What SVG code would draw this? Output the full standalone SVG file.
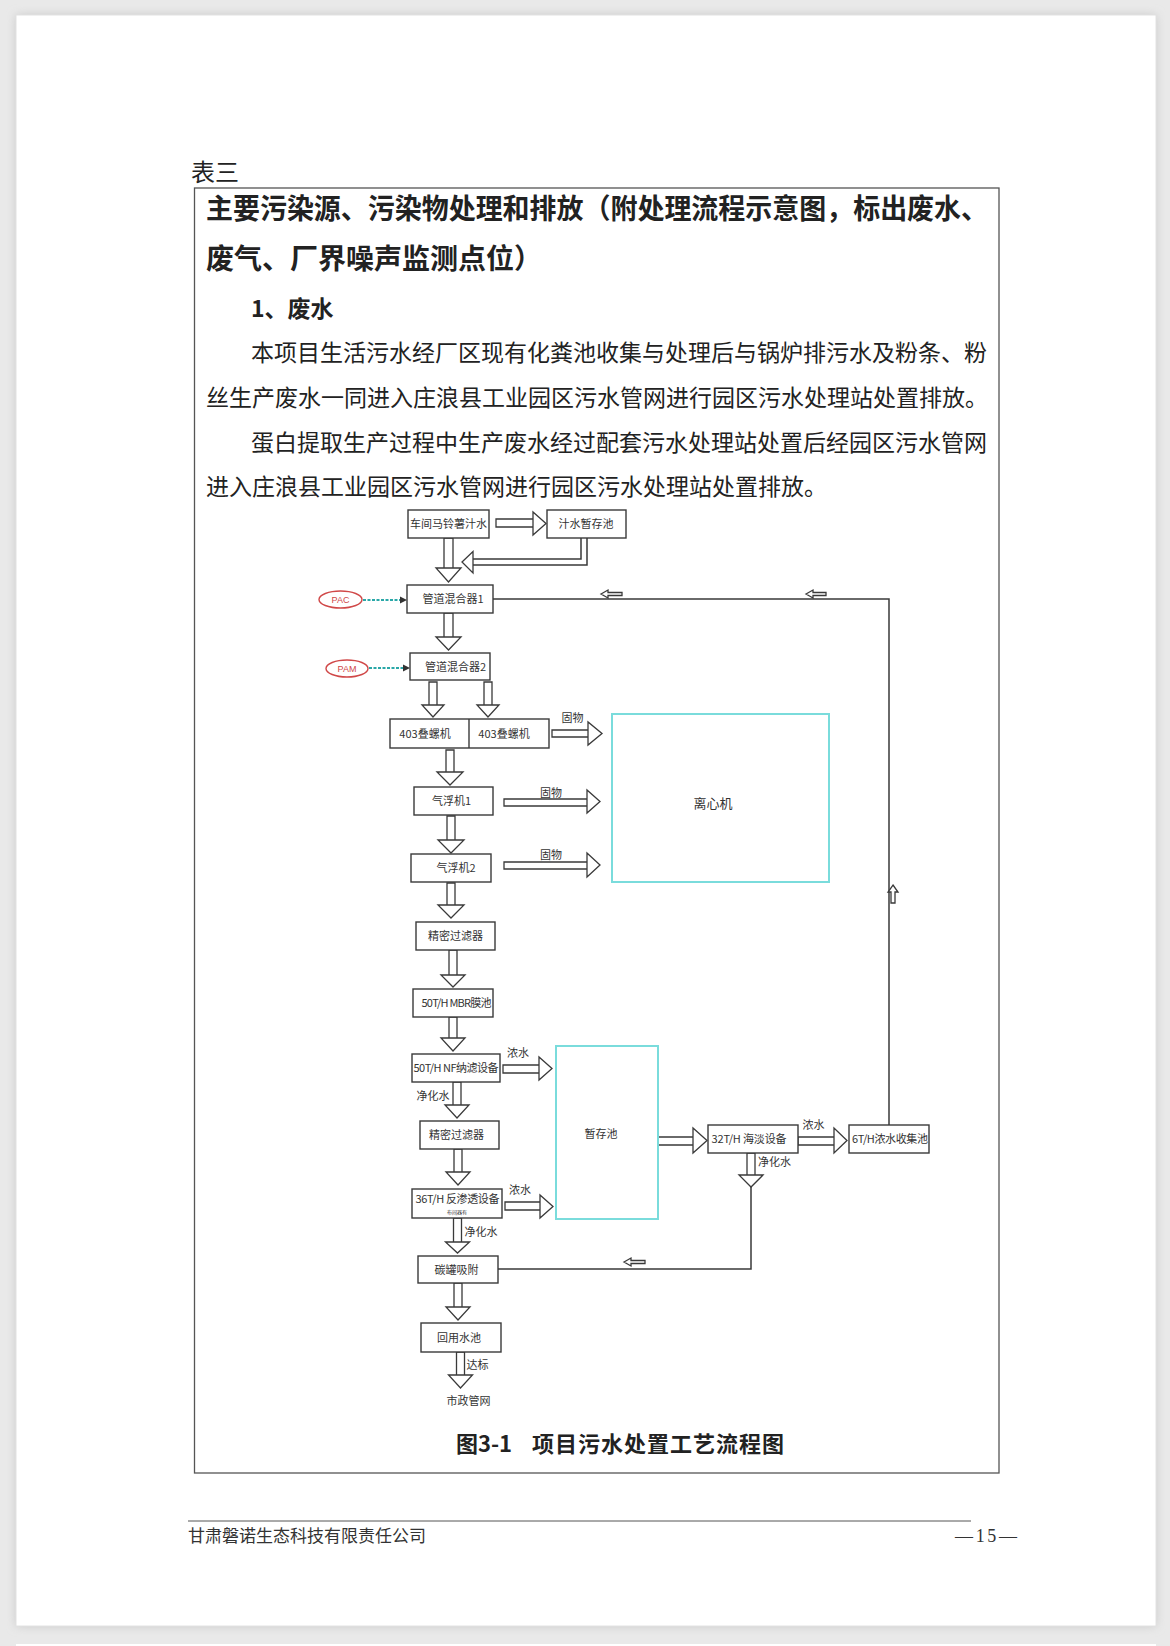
<svg xmlns="http://www.w3.org/2000/svg" width="1170" height="1646" viewBox="0 0 1170 1646">
<defs>
<style>
.bx{fill:#fff;stroke:#3a3a3a;stroke-width:1.4}
.cy{fill:none;stroke:#7adcdc;stroke-width:2}
.ar{fill:#fff;stroke:#3a3a3a;stroke-width:1.3;stroke-linejoin:miter}
.ln{fill:none;stroke:#3a3a3a;stroke-width:1.5}
.t{font-family:"Noto Sans CJK SC","Liberation Sans",sans-serif;font-size:11px;fill:#333;text-anchor:middle}
.body{font-family:"Noto Sans CJK SC",sans-serif;font-size:23px;fill:#222}
.hd{font-family:"Noto Sans CJK SC",sans-serif;font-size:28px;font-weight:bold;fill:#222}
.red{fill:#fff;stroke:#d04848;stroke-width:1.4}
.rt{font-family:"Liberation Sans",sans-serif;font-size:9px;fill:#d04848;text-anchor:middle}
.dot{stroke:#2aa8a8;stroke-width:2.2;stroke-dasharray:3 1.5;fill:none}
</style>
<filter id="sh" x="-5%" y="-5%" width="110%" height="110%">
<feGaussianBlur stdDeviation="5"/>
</filter>
</defs>
<rect x="0" y="0" width="1170" height="1646" fill="#e9e9e9"/>
<rect x="16" y="15" width="1140" height="1611" fill="#c8c8c8" filter="url(#sh)"/>
<rect x="16" y="15" width="1140" height="1611" fill="#fff" stroke="#e2e2e2" stroke-width="1"/>
<rect x="16" y="1644" width="1140" height="2" fill="#fff"/>

<g id="page-text">
<text x="191" y="181" font-family="Noto Sans CJK SC,sans-serif" font-size="24" fill="#222">表三</text>
<rect x="194.5" y="188" width="804.5" height="1285" fill="none" stroke="#555" stroke-width="1.3"/>
<text class="hd" x="206" y="219" textLength="782" lengthAdjust="spacingAndGlyphs">主要污染源、污染物处理和排放（附处理流程示意图，标出废水、</text>
<text class="hd" x="206" y="269">废气、厂界噪声监测点位）</text>
<text class="body" x="251" y="317" font-weight="bold">1、废水</text>
<text class="body" x="251" y="361">本项目生活污水经厂区现有化粪池收集与处理后与锅炉排污水及粉条、粉</text>
<text class="body" x="206" y="406">丝生产废水一同进入庄浪县工业园区污水管网进行园区污水处理站处置排放。</text>
<text class="body" x="251" y="451">蛋白提取生产过程中生产废水经过配套污水处理站处置后经园区污水管网</text>
<text class="body" x="206" y="495">进入庄浪县工业园区污水管网进行园区污水处理站处置排放。</text>
<text x="456" y="1452" font-family="Noto Sans CJK SC,sans-serif" font-size="22" font-weight="bold" fill="#222">图3-1</text>
<text x="532" y="1452" font-family="Noto Sans CJK SC,sans-serif" font-size="22" font-weight="bold" fill="#222" textLength="252">项目污水处置工艺流程图</text>
<line x1="188" y1="1521" x2="971" y2="1521" stroke="#555" stroke-width="1"/>
<text x="188" y="1542" font-family="Noto Sans CJK SC,sans-serif" font-size="17" fill="#333">甘肃磐诺生态科技有限责任公司</text>
<text x="955" y="1542" font-family="Liberation Serif,serif" font-size="18" fill="#333" textLength="62">—15—</text>
</g>

<g id="connectors">
<path class="ln" d="M493 599H889V1125"/>
<path class="ln" d="M751 1187V1269H498"/>
<path class="ln" d="M581 538V559H473M587 538V565H473"/>
<path class="ar" d="M473 551.5V573L462 562Z"/>
<path class="ar" d="M444 538H453V568H444Z M436 568H461L448.5 582Z"/>
<path class="ar" d="M444 613H453V637H444Z M436 637H461L448.5 650Z"/>
<path class="ar" d="M429 682H437V705H429Z M422 705H444L433 717Z"/>
<path class="ar" d="M484 682H492V705H484Z M477 705H499L488 717Z"/>
<path class="ar" d="M446 750H454V772H446Z M437 772H463L450 785Z"/>
<path class="ar" d="M447 816H455V840H447Z M438 840H464L451 853Z"/>
<path class="ar" d="M447 883H455V905H447Z M438 905H464L451 918Z"/>
<path class="ar" d="M449 950H457V975H449Z M441 975H465L453 987Z"/>
<path class="ar" d="M449 1017H457V1038H449Z M441 1038H465L453 1051Z"/>
<path class="ar" d="M453 1082H461V1105H453Z M445 1105H469L457 1118Z"/>
<path class="ar" d="M454 1149H462V1172H454Z M446 1172H470L458 1185Z"/>
<path class="ar" d="M453.5 1218H461.5V1242H453.5Z M445.5 1242H469.5L457.5 1253Z"/>
<path class="ar" d="M454 1283H462V1307H454Z M446 1307H470L458 1320Z"/>
<path class="ar" d="M456.5 1352H464.5V1375H456.5Z M448.5 1375H472.5L460.5 1388Z"/>
<path class="ar" d="M747 1153H755V1175H747Z M739 1175H763L751 1187Z"/>
<path class="ar" d="M496 519H533V527H496Z M533 512V535L546 523.5Z"/>
<path class="ar" d="M552 730H588V737H552Z M588 722V745L602 733.5Z"/>
<path class="ar" d="M504 799H587V806H504Z M587 790V813L600 801.5Z"/>
<path class="ar" d="M504 862H587V869H504Z M587 853V877L600 865Z"/>
<path class="ar" d="M503 1065H539V1073H503Z M539 1057V1080L552 1068.5Z"/>
<path class="ar" d="M505 1202H540V1210H505Z M540 1195V1218L553 1206.5Z"/>
<path class="ar" d="M658 1137H693V1145H658Z M693 1128V1153L707 1140.5Z"/>
<path class="ar" d="M798 1137H834V1145H798Z M834 1128V1153L847 1140.5Z"/>
<path class="ar" stroke-width="1.1" d="M601 594L608 590V592.5H622V595.5H608V598Z"/>
<path class="ar" stroke-width="1.1" d="M806 594L813 590V592.5H826V595.5H813V598Z"/>
<path class="ar" stroke-width="1.1" d="M624 1262L631 1258V1260.5H645V1263.5H631V1266Z"/>
<path class="ar" stroke-width="1.1" d="M893 885L898 892H895V903H891V892H888Z"/>
<path class="dot" d="M363 600H401"/>
<path d="M400 596.5L407 600L400 603.5Z" fill="#333"/>
<path class="dot" d="M369 668H404"/>
<path d="M403 664.5L410 668L403 671.5Z" fill="#333"/>
<text class="t" x="572.5" y="722">固物</text>
<text class="t" x="551" y="797">固物</text>
<text class="t" x="551" y="859">固物</text>
<text class="t" x="518" y="1057">浓水</text>
<text class="t" x="433" y="1100">净化水</text>
<text class="t" x="520" y="1194">浓水</text>
<text class="t" x="481" y="1236">净化水</text>
<text class="t" x="477.5" y="1369">达标</text>
<text class="t" x="468.5" y="1405">市政管网</text>
<text class="t" x="813.5" y="1129">浓水</text>
<text class="t" x="774.5" y="1166">净化水</text>
</g>

<g id="n-pac"><ellipse class="red" cx="340.5" cy="599.5" rx="21.5" ry="8.5"/><text class="rt" x="340.5" y="603">PAC</text></g>
<g id="n-pam"><ellipse class="red" cx="347" cy="668.5" rx="21" ry="8.5"/><text class="rt" x="347" y="672">PAM</text></g>
<g id="n-b1"><rect class="bx" x="408" y="510" width="81" height="28"/><text class="t" x="448.5" y="528">车间马铃薯汁水</text></g>
<g id="n-b2"><rect class="bx" x="547" y="510" width="79" height="28"/><text class="t" x="586" y="528">汁水暂存池</text></g>
<g id="n-b3"><rect class="bx" x="407" y="585" width="86" height="28"/><text class="t" x="453" y="603">管道混合器1</text></g>
<g id="n-b4"><rect class="bx" x="410" y="653" width="80" height="27"/><text class="t" x="455.5" y="670.5">管道混合器2</text></g>
<g id="n-b5"><rect class="bx" x="390" y="719" width="159" height="29"/><line x1="469" y1="719" x2="469" y2="748" stroke="#3a3a3a" stroke-width="1.4"/><text class="t" x="425" y="737.5">403叠螺机</text><text class="t" x="504" y="737.5">403叠螺机</text></g>
<g id="n-b6"><rect class="bx" x="414" y="787" width="79" height="28"/><text class="t" x="451.5" y="805">气浮机1</text></g>
<g id="n-b7"><rect class="bx" x="411" y="854" width="80" height="28"/><text class="t" x="456" y="872">气浮机2</text></g>
<g id="n-b8"><rect class="bx" x="416" y="922" width="79" height="28"/><text class="t" x="455.5" y="940">精密过滤器</text></g>
<g id="n-b9"><rect class="bx" x="413" y="989" width="80" height="28"/><text class="t" x="456.5" y="1007" textLength="70">50T/H MBR膜池</text></g>
<g id="n-b10"><rect class="bx" x="412" y="1054" width="88" height="28"/><text class="t" x="456" y="1072" textLength="85">50T/H NF纳滤设备</text></g>
<g id="n-b11"><rect class="bx" x="420" y="1121" width="79" height="28"/><text class="t" x="456.5" y="1139">精密过滤器</text></g>
<g id="n-b12"><rect class="bx" x="412" y="1189" width="90" height="29"/><text class="t" x="457.5" y="1203" textLength="84">36T/H 反渗透设备</text><text class="t" x="457" y="1214" style="font-size:5px">布间器有</text></g>
<g id="n-b13"><rect class="bx" x="418" y="1256" width="80" height="27"/><text class="t" x="456.5" y="1273.5">碳罐吸附</text></g>
<g id="n-b14"><rect class="bx" x="421" y="1323" width="80" height="29"/><text class="t" x="459" y="1341.5">回用水池</text></g>
<g id="n-b15"><rect class="bx" x="708" y="1125" width="90" height="28"/><text class="t" x="749" y="1143" textLength="75">32T/H 海淡设备</text></g>
<g id="n-b16"><rect class="bx" x="849" y="1125" width="80" height="28"/><text class="t" x="890" y="1143" textLength="76">6T/H浓水收集池</text></g>
<g id="n-lxj"><rect class="cy" x="612" y="714" width="217" height="168"/><text class="t" x="713" y="808" style="font-size:13px">离心机</text></g>
<g id="n-zcc"><rect class="cy" x="556" y="1046" width="102" height="173"/><text class="t" x="601" y="1138">暂存池</text></g>
</svg>
